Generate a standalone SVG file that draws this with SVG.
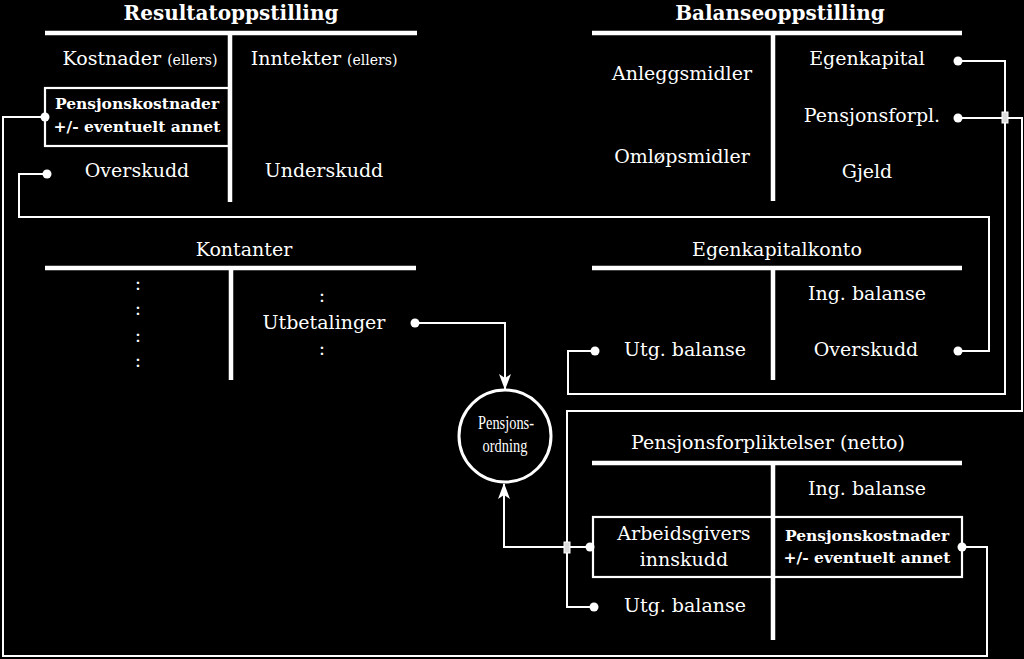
<svg xmlns="http://www.w3.org/2000/svg" width="1024" height="659" viewBox="0 0 1024 659">
<style>
text{font-family:"DejaVu Serif","Liberation Serif",serif;fill:#fff;text-anchor:middle}
.t{font-size:19px}
.h{font-size:20px;font-weight:bold}
.s{font-size:14px}
.b{font-size:15.5px;font-weight:bold}
.n{font-family:"Liberation Serif",serif;font-size:18px}
.tl{stroke:#fff;stroke-width:4.5;fill:none}
.c{stroke:#fff;stroke-width:2;fill:none}
.box{stroke:#fff;stroke-width:2.2;fill:none}
.dot{fill:#fff}
.j{fill:#ddd;stroke:#fff;stroke-width:1}
</style>
<defs>
<marker id="ah" viewBox="0 0 16 12" refX="15" refY="6" markerWidth="16" markerHeight="12" markerUnits="userSpaceOnUse" orient="auto">
<path d="M0,0 L16,6 L0,12 L4,6 z" fill="#fff"/>
</marker>
</defs>
<rect width="1024" height="659" fill="#000"/>

<g id="resultat">
<text class="h" x="231" y="20">Resultatoppstilling</text>
<path class="tl" d="M45,33 H417 M230,33 V202"/>
<text class="t" x="140" y="65">Kostnader <tspan class="s">(ellers)</tspan></text>
<text class="t" x="324" y="65">Inntekter <tspan class="s">(ellers)</tspan></text>
<rect class="box" x="45" y="88" width="184" height="58"/>
<text class="b" x="137" y="109">Pensjonskostnader</text>
<text class="b" x="137" y="132">+/- eventuelt annet</text>
<text class="t" x="137" y="177">Overskudd</text>
<text class="t" x="324" y="177">Underskudd</text>
</g>

<g id="balanse">
<text class="h" x="780" y="20">Balanseoppstilling</text>
<path class="tl" d="M592,33 H962 M773,33 V201"/>
<text class="t" x="682" y="80">Anleggsmidler</text>
<text class="t" x="682" y="163">Omløpsmidler</text>
<text class="t" x="867" y="65">Egenkapital</text>
<text class="t" x="872" y="122">Pensjonsforpl.</text>
<text class="t" x="867" y="178">Gjeld</text>
</g>

<g id="kontanter">
<text class="t" x="244" y="256">Kontanter</text>
<path class="tl" d="M45,268 H416 M231,268 V380"/>
<text class="t" x="138" y="290">:</text>
<text class="t" x="138" y="315">:</text>
<text class="t" x="138" y="342">:</text>
<text class="t" x="138" y="367">:</text>
<text class="t" x="322" y="302">:</text>
<text class="t" x="324" y="329">Utbetalinger</text>
<text class="t" x="322" y="355">:</text>
</g>

<g id="egenkapitalkonto">
<text class="t" x="777" y="256">Egenkapitalkonto</text>
<path class="tl" d="M592,268 H962 M773,268 V380"/>
<text class="t" x="867" y="300">Ing. balanse</text>
<text class="t" x="685" y="356">Utg. balanse</text>
<text class="t" x="866" y="356">Overskudd</text>
</g>

<g id="pensjonsforpliktelser">
<text class="t" x="768" y="449">Pensjonsforpliktelser (netto)</text>
<path class="tl" d="M592,463 H962 M773,463 V640"/>
<text class="t" x="867" y="495">Ing. balanse</text>
<rect class="box" x="593" y="517" width="369" height="60"/>
<text class="t" x="684" y="540">Arbeidsgivers</text>
<text class="t" x="684" y="566">innskudd</text>
<text class="b" x="867" y="541">Pensjonskostnader</text>
<text class="b" x="867" y="563">+/- eventuelt annet</text>
<text class="t" x="685" y="612">Utg. balanse</text>
</g>

<g id="pensjonsordning">
<circle cx="505" cy="436" r="46" fill="none" stroke="#fff" stroke-width="3"/>
<text class="n" transform="translate(506,429) scale(0.8,1)">Pensjons-</text>
<text class="n" transform="translate(505,452) scale(0.8,1)">ordning</text>
</g>

<g id="connectors">
<path class="c" d="M45,117 H3 V656 H987 V547 H962"/>
<path class="c" d="M47,174 H19 V217 H989 V351 H958"/>
<path class="c" d="M958,61 H1005 V394 H568 V351 H595"/>
<path class="c" d="M958,118 H1022 V411 H567 V607 H594"/>
<path class="c" d="M415,323 H505 V389" marker-end="url(#ah)"/>
<path class="c" d="M590,547 H504 V484" marker-end="url(#ah)"/>
<rect class="j" x="1002" y="112" width="6" height="11"/>
<rect class="j" x="564" y="542" width="6" height="11"/>
<g class="dot">
<circle cx="45" cy="117" r="4.5"/>
<circle cx="962" cy="547" r="4.5"/>
<circle cx="47" cy="174" r="4.5"/>
<circle cx="958" cy="351" r="4.5"/>
<circle cx="958" cy="61" r="4.5"/>
<circle cx="595" cy="351" r="4.5"/>
<circle cx="958" cy="118" r="4.5"/>
<circle cx="594" cy="607" r="4.5"/>
<circle cx="415" cy="323" r="4.5"/>
<circle cx="590" cy="547" r="4.5"/>
</g>
</g>
</svg>
